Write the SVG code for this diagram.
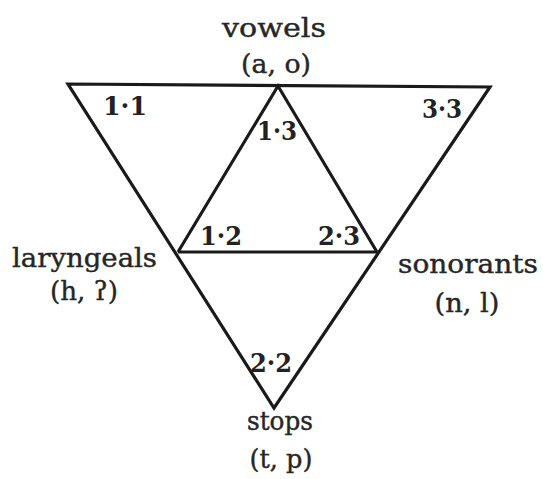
<svg xmlns="http://www.w3.org/2000/svg" width="543" height="479" viewBox="0 0 543 479">
<style>
.ln{stroke:#1a1a1a;stroke-width:3.2;fill:none;stroke-linejoin:miter}
.lbl{font-family:"DejaVu Serif","Liberation Serif",serif;font-size:26px;fill:#262626;stroke:#262626;stroke-width:0.4}
.num{font-family:"DejaVu Serif","Liberation Serif",serif;font-size:26px;font-weight:bold;fill:#222222}
</style>
<rect width="543" height="479" fill="#ffffff"/>
<g id="connectors">
<polygon class="ln" points="68,84 490,87 274,408"/>
<polyline class="ln" points="178,252 278,86 377,252"/>
<line class="ln" x1="178" y1="252" x2="377" y2="252"/>
</g>
<g id="vowels"><text class="lbl" x="274" y="37" text-anchor="middle" textLength="104" lengthAdjust="spacingAndGlyphs">vowels</text><text class="lbl" x="276" y="73" text-anchor="middle" textLength="70" lengthAdjust="spacingAndGlyphs">(a, o)</text></g>
<g id="laryngeals"><text class="lbl" x="12" y="267" textLength="145" lengthAdjust="spacingAndGlyphs">laryngeals</text><text class="lbl" x="84" y="300" text-anchor="middle" textLength="68" lengthAdjust="spacingAndGlyphs">(h, ʔ)</text></g>
<g id="sonorants"><text class="lbl" x="398" y="273" textLength="140" lengthAdjust="spacingAndGlyphs">sonorants</text><text class="lbl" x="467" y="312" text-anchor="middle" textLength="65" lengthAdjust="spacingAndGlyphs">(n, l)</text></g>
<g id="stops"><text class="lbl" x="280" y="430" text-anchor="middle" textLength="66" lengthAdjust="spacingAndGlyphs">stops</text><text class="lbl" x="281" y="468" text-anchor="middle" textLength="63" lengthAdjust="spacingAndGlyphs">(t, p)</text></g>
<g id="n11"><text class="num" x="103" y="115" textLength="44" lengthAdjust="spacingAndGlyphs">1·1</text></g>
<g id="n33"><text class="num" x="422" y="118" textLength="40" lengthAdjust="spacingAndGlyphs">3·3</text></g>
<g id="n13"><text class="num" x="257" y="140" textLength="40" lengthAdjust="spacingAndGlyphs">1·3</text></g>
<g id="n12"><text class="num" x="200" y="245" textLength="42" lengthAdjust="spacingAndGlyphs">1·2</text></g>
<g id="n23"><text class="num" x="318" y="245" textLength="42" lengthAdjust="spacingAndGlyphs">2·3</text></g>
<g id="n22"><text class="num" x="250" y="372" textLength="42" lengthAdjust="spacingAndGlyphs">2·2</text></g>
</svg>
